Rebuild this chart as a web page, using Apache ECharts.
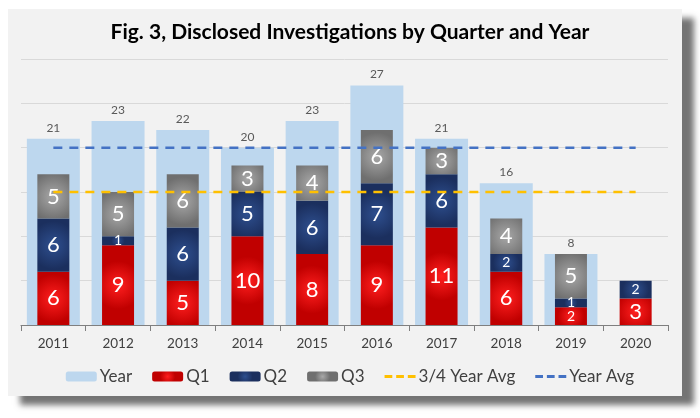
<!DOCTYPE html>
<html><head><meta charset="utf-8">
<script src="https://cdn.jsdelivr.net/npm/echarts@6/dist/echarts.min.js"></script>
<style>
html,body{margin:0;padding:0;background:#fff;}
#wrap{position:relative;width:700px;height:418px;overflow:hidden;background:#fff;}
#panel{position:absolute;left:8px;top:9px;width:674px;height:387px;background:#f2f2f2;box-shadow:12px 9px 6px rgba(70,70,70,0.75);}
#chart{position:absolute;left:0;top:0;width:700px;height:418px;}
</style></head>
<body>
<div id="wrap"><div id="panel"></div><div id="chart"></div></div>
<script>
const years = ['2011','2012','2013','2014','2015','2016','2017','2018','2019','2020'];
const yearTotal = [21,23,22,20,23,27,21,16,8,null];
const q1 = [6,9,5,10,8,9,11,6,2,3];
const q2 = [6,1,6,5,6,7,6,2,1,2];
const q3 = [5,5,6,3,4,6,3,4,5,null];
const threeQuarterAvg = [15,15,15,15,15,15,15,15,15,15];
const yearAvg = [20,20,20,20,20,20,20,20,20,20];

const font = 'Lato, "Open Sans", sans-serif';
const dashIcon = 'path://M0,0h8v3h-8z M12,0h8v3h-8z M24,0h8v3h-8z';
function radial(c0, c1){
  return {type:'radial',x:0.5,y:0.5,r:0.75,colorStops:[{offset:0,color:c0},{offset:1,color:c1}]};
}
const qLabel = {
  show:true, position:'inside', color:'#fff', fontFamily:font,
  formatter: p => (p.value <= 2 ? '{s|' : '{b|') + p.value + '}',
  rich:{ b:{fontSize:22,color:'#fff',fontFamily:font}, s:{fontSize:14,color:'#fff',fontFamily:font} }
};
const chart = echarts.init(document.getElementById('chart'));
chart.setOption({
  backgroundColor:'transparent',
  animation:false,
  title:{text:'Fig. 3, Disclosed Investigations by Quarter and Year',left:'center',top:17,
    textStyle:{fontFamily:font,fontWeight:'bold',fontSize:21,color:'#000'}},
  legend:{bottom:28,left:'center',itemWidth:31,itemHeight:10,itemGap:20,
    textStyle:{fontFamily:font,fontSize:17,color:'#404040',padding:[0,0,0,-2]},
    data:['Year','Q1','Q2','Q3',{name:'3/4 Year Avg',icon:dashIcon},{name:'Year Avg',icon:dashIcon}]},
  grid:{left:21,right:32,top:59,bottom:93},
  xAxis:[
    {type:'category',data:years,
     axisLine:{lineStyle:{color:'#7f7f7f',width:1.2}},
     axisTick:{show:true,length:6,lineStyle:{color:'#7f7f7f'}},
     axisLabel:{fontFamily:font,fontSize:13.5,color:'#404040',margin:12}},
    {type:'category',data:years,show:false}
  ],
  yAxis:{type:'value',min:0,max:30,interval:5,axisLabel:{show:false},axisLine:{show:false},axisTick:{show:false},
    splitLine:{lineStyle:{color:'#d9d9d9'}}},
  series:[
    {name:'Year',type:'bar',xAxisIndex:1,data:yearTotal,barWidth:53,
     itemStyle:{color:'#bdd7ee'},
     label:{show:true,position:'top',distance:5,fontFamily:font,fontSize:12,color:'#595959'},z:1},
    {name:'Q1',type:'bar',stack:'q',data:q1,barWidth:32,itemStyle:{color:radial('#ff1f1f','#c00000')},label:qLabel,z:3},
    {name:'Q2',type:'bar',stack:'q',data:q2,barWidth:32,itemStyle:{color:radial('#2e4f8f','#1b2f5e')},label:qLabel,z:3},
    {name:'Q3',type:'bar',stack:'q',data:q3,barWidth:32,itemStyle:{color:radial('#a8a8a8','#6f6f6f')},label:qLabel,z:3},
    {name:'3/4 Year Avg',type:'line',data:threeQuarterAvg,symbol:'none',z:4,
     itemStyle:{color:'#ffc000'},lineStyle:{color:'#ffc000',width:2.5,type:[9,7]}},
    {name:'Year Avg',type:'line',data:yearAvg,symbol:'none',z:4,
     itemStyle:{color:'#4472c4'},lineStyle:{color:'#4472c4',width:2.5,type:[9,7]}}
  ]
});
</script>
</body></html>
